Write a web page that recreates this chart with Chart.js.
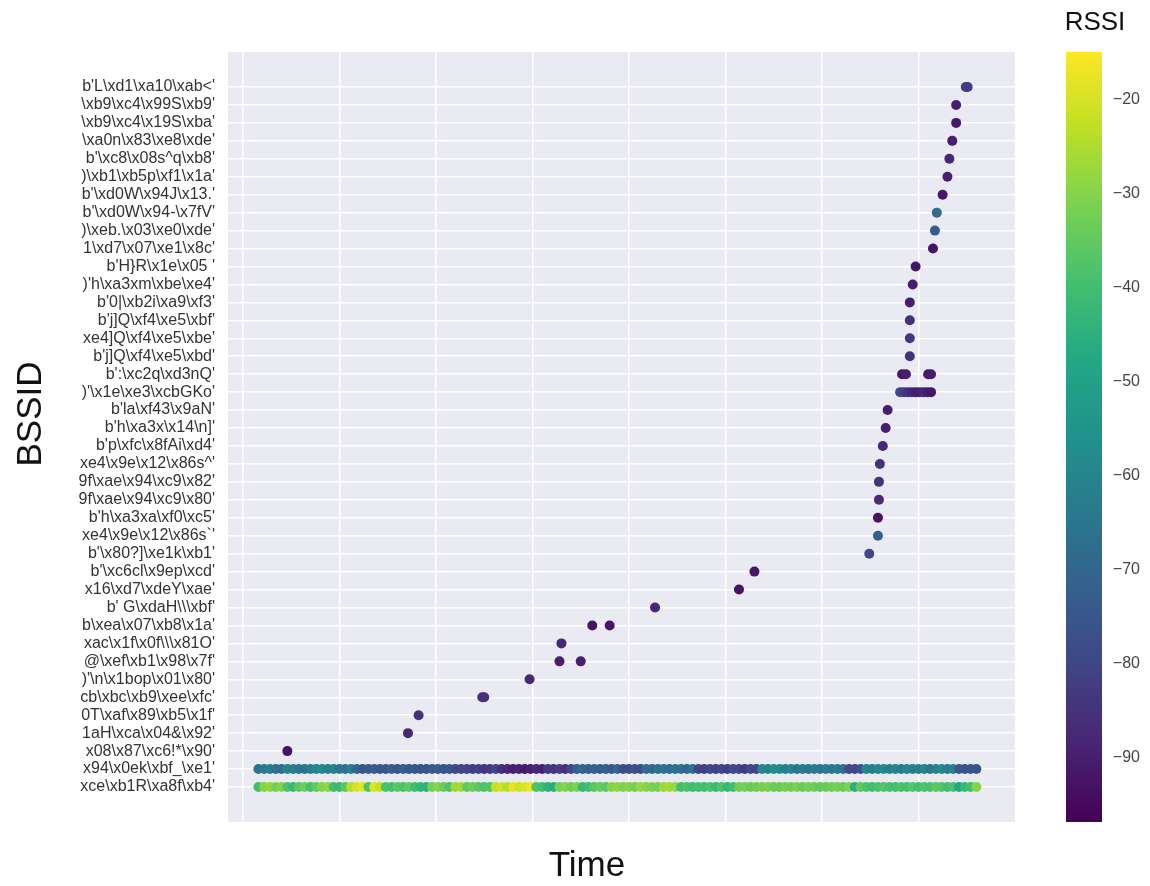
<!DOCTYPE html>
<html>
<head>
<meta charset="utf-8">
<script src="https://cdn.jsdelivr.net/npm/chart.js@4/dist/chart.umd.min.js"></script>
<style>
  html, body { margin: 0; padding: 0; background: #ffffff; }
  #wrap { position: relative; width: 1150px; height: 886px; }
</style>
</head>
<body>
<div id="wrap"><canvas id="c" width="1150" height="886"></canvas></div>
<script>
// ---------- DATA ----------
// BSSID tick labels, bottom (0) to top (39), as visible in the reference
const bssidLabels = [
  "xce\\xb1R\\xa8f\\xb4'",
  "x94\\x0ek\\xbf_\\xe1'",
  "x08\\x87\\xc6!*\\x90'",
  "1aH\\xca\\x04&\\x92'",
  "0T\\xaf\\x89\\xb5\\x1f'",
  "cb\\xbc\\xb9\\xee\\xfc'",
  ")'\\n\\x1bop\\x01\\x80'",
  " @\\xef\\xb1\\x98\\x7f'",
  "xac\\x1f\\x0f\\\\\\x81O'",
  "b\\xea\\x07\\xb8\\x1a'",
  "b' G\\xdaH\\\\\\xbf'",
  "x16\\xd7\\xdeY\\xae'",
  "b'\\xc6cl\\x9ep\\xcd'",
  "b'\\x80?]\\xe1k\\xb1'",
  "xe4\\x9e\\x12\\x86s`'",
  "b'h\\xa3xa\\xf0\\xc5'",
  "9f\\xae\\x94\\xc9\\x80'",
  "9f\\xae\\x94\\xc9\\x82'",
  "xe4\\x9e\\x12\\x86s^'",
  "b'p\\xfc\\x8fAi\\xd4'",
  "b'h\\xa3x\\x14\\n]'",
  "b'la\\xf43\\x9aN'",
  ")'\\x1e\\xe3\\xcbGKo'",
  "b':\\xc2q\\xd3nQ'",
  "b'j]Q\\xf4\\xe5\\xbd'",
  "xe4]Q\\xf4\\xe5\\xbe'",
  "b'j]Q\\xf4\\xe5\\xbf'",
  "b'0|\\xb2i\\xa9\\xf3'",
  ")'h\\xa3xm\\xbe\\xe4'",
  "b'H}R\\x1e\\x05 '",
  "1\\xd7\\x07\\xe1\\x8c'",
  ")\\xeb.\\x03\\xe0\\xde'",
  "b'\\xd0W\\x94-\\x7fV'",
  "b'\\xd0W\\x94J\\x13.'",
  ")\\xb1\\xb5p\\xf1\\x1a'",
  "b'\\xc8\\x08s^q\\xb8'",
  "\\xa0n\\x83\\xe8\\xde'",
  "\\xb9\\xc4\\x19S\\xba'",
  "\\xb9\\xc4\\x99S\\xb9'",
  "b'L\\xd1\\xa10\\xab<'"
];

// scan times for the two always-present BSSIDs (rows 0 and 1)
const scanTimes = [
  1.6,2.2,2.8,3.4,4.0,4.6,5.2,5.8,6.4,7.0,
  7.6,8.2,8.8,9.4,10.0,10.6,11.2,11.8,12.4,13.0,
  13.6,14.2,14.8,15.4,16.0,16.6,17.2,17.8,18.4,19.0,
  19.6,20.2,20.8,21.4,22.0,22.6,23.2,23.8,24.4,25.0,
  25.6,26.2,26.8,27.4,28.0,28.6,29.2,29.8,30.4,31.0,
  31.6,32.2,32.8,33.4,34.0,34.6,35.2,35.8,36.4,37.0,
  37.6,38.2,38.8,39.4,40.0,40.6,41.2,41.8,42.4,43.0,
  43.6,44.2,44.8,45.4,46.0,46.6,47.2,47.8,48.4,49.0,
  49.6,50.2,50.8,51.4,52.0,52.6,53.2,53.8,54.4,55.0,
  55.6,56.2,56.8,57.4,58.0,58.6,59.2,59.8,60.4,61.0,
  61.6,62.2,62.8,63.4,64.0,64.6,65.2,65.8,66.4,67.0,
  67.6,68.2,68.8,69.4,70.0,70.6,71.2,71.8,72.4,73.0,
  73.6,74.2,74.8,75.4,76.0
];

// RSSI of row 0 (bottom BSSID) at each scan
const rssiRow0 = [
  -40,-30,-28,-32,-30,-38,-42,-36,-33,-40,
  -35,-30,-29,-40,-42,-36,-24,-20,-18,-38,
  -19,-22,-38,-40,-36,-38,-35,-40,-43,-44,
  -32,-30,-34,-38,-27,-26,-35,-33,-36,-38,
  -37,-22,-20,-24,-18,-21,-19,-17,-38,-40,
  -44,-46,-32,-30,-33,-31,-42,-40,-36,-34,
  -36,-30,-29,-31,-30,-32,-28,-30,-31,-32,
  -27,-26,-28,-40,-38,-41,-39,-40,-38,-42,
  -38,-43,-40,-33,-32,-34,-33,-32,-31,-33,
  -34,-32,-33,-31,-34,-32,-33,-35,-34,-33,
  -32,-34,-31,-46,-35,-38,-40,-38,-37,-39,
  -40,-38,-39,-37,-40,-38,-39,-36,-37,-40,
  -38,-48,-42,-40,-30
];

// RSSI of row 1 at each scan
const rssiRow1 = [
  -66,-64,-62,-66,-68,-60,-62,-64,-66,-63,
  -60,-58,-62,-60,-64,-66,-62,-70,-75,-74,
  -73,-75,-74,-72,-76,-73,-75,-74,-76,-75,
  -74,-73,-76,-75,-78,-80,-80,-82,-81,-84,
  -83,-80,-86,-88,-90,-89,-91,-90,-88,-89,
  -83,-84,-82,-85,-80,-72,-70,-72,-71,-73,
  -72,-74,-70,-78,-79,-77,-78,-68,-70,-67,
  -66,-68,-65,-67,-70,-66,-80,-82,-79,-81,
  -80,-82,-78,-80,-83,-79,-80,-58,-60,-57,
  -59,-62,-60,-64,-63,-66,-62,-64,-63,-65,
  -62,-66,-78,-80,-77,-60,-62,-60,-58,-62,
  -60,-63,-59,-61,-62,-60,-64,-61,-58,-62,
  -60,-74,-76,-75,-77
];

// occasional sightings of the other BSSIDs
const sparseRow  = [2,3,4,5,5,6,7,7,8,9,9,10,11,12,13,14,15,16,17,18,19,20,21,
                    22,22,22,22,22,22,22,22,22,
                    23,23,23,23,
                    24,25,26,27,28,29,30,31,32,33,34,35,36,37,38,39,39];
const sparseTime = [4.6,17.1,18.2,24.8,25.0,29.7,32.8,35.0,33.0,36.2,38.0,42.7,51.4,53.0,64.9,65.8,65.8,65.9,65.9,66.0,66.3,66.6,66.8,
                    68.1,68.5,68.9,69.3,69.7,70.1,70.5,70.9,71.3,
                    68.3,68.7,71.0,71.3,
                    69.1,69.1,69.1,69.1,69.4,69.7,71.5,71.7,71.9,72.5,73.0,73.2,73.5,73.9,73.9,74.9,75.1];
const sparseRssi = [-93,-88,-85,-86,-86,-88,-90,-90,-88,-93,-92,-88,-93,-92,-80,-72,-93,-87,-85,-85,-88,-90,-90,
                    -80,-82,-86,-88,-90,-90,-88,-90,-92,
                    -92,-90,-92,-90,
                    -85,-84,-86,-90,-90,-92,-93,-73,-68,-92,-90,-88,-90,-92,-90,-82,-82];

const timeTicks = [0,10,20,30,40,50,60,70];
const colorTicks = [-90,-80,-70,-60,-50,-40,-30,-20];
const rssiMin = -96.9, rssiMax = -14.9;

// ---------- viridis colormap ----------
const viridis = ['#440154','#482475','#414487','#355f8d','#2a788e','#21918c','#22a884','#44bf70','#7ad151','#bddf26','#fde725'];
function hexToRgb(h){ return [parseInt(h.slice(1,3),16),parseInt(h.slice(3,5),16),parseInt(h.slice(5,7),16)]; }
function viridisColor(v){
  let t = (v - rssiMin) / (rssiMax - rssiMin);
  t = Math.max(0, Math.min(1, t));
  const p = t * (viridis.length - 1);
  const i = Math.min(Math.floor(p), viridis.length - 2);
  const f = p - i;
  const a = hexToRgb(viridis[i]), b = hexToRgb(viridis[i+1]);
  return 'rgb(' + a.map((c,k)=>Math.round(c + (b[k]-c)*f)).join(',') + ')';
}

// ---------- build points ----------
const points = [];
scanTimes.forEach((t,i)=>points.push({x:t, y:0, v:rssiRow0[i]}));
scanTimes.forEach((t,i)=>points.push({x:t, y:1, v:rssiRow1[i]}));
sparseRow.forEach((r,i)=>points.push({x:sparseTime[i], y:r, v:sparseRssi[i]}));

const FONT = '"Liberation Sans", Arial, sans-serif';

const bgPlugin = {
  id: 'bg',
  beforeDraw(chart){
    const {ctx, chartArea:a} = chart;
    ctx.save();
    ctx.fillStyle = '#EAEAF2';
    ctx.fillRect(a.left, a.top, a.right - a.left, a.bottom - a.top);
    ctx.restore();
  },
  afterDraw(chart){
    const ctx = chart.ctx;
    const cs = chart.scales.cbar;
    // colour bar
    const yTop = cs.getPixelForValue(rssiMax), yBot = cs.getPixelForValue(rssiMin);
    const x0 = cs.left + 51, w = 36;
    const g = ctx.createLinearGradient(0, yBot, 0, yTop);
    viridis.forEach((c,i)=>g.addColorStop(i/(viridis.length-1), c));
    ctx.save();
    ctx.fillStyle = g;
    ctx.fillRect(x0, yTop, w, yBot - yTop);
    // titles
    ctx.fillStyle = '#111';
    ctx.textAlign = 'center';
    ctx.textBaseline = 'middle';
    ctx.font = '26px ' + FONT;
    ctx.fillText('RSSI', 1095, 23);
    ctx.font = '35px ' + FONT;
    ctx.fillText('Time', 587, 866);
    ctx.translate(31, 414);
    ctx.rotate(-Math.PI/2);
    ctx.fillText('BSSID', 0, 0);
    ctx.restore();
  }
};

new Chart(document.getElementById('c'), {
  type: 'scatter',
  data: {
    datasets: [{
      data: points,
      pointRadius: 5,
      pointHoverRadius: 5,
      pointBorderWidth: 0,
      pointBackgroundColor: (ctx) => ctx.raw ? viridisColor(ctx.raw.v) : '#000'
    }]
  },
  options: {
    responsive: false,
    animation: false,
    events: [],
    layout: { padding: { top: 52, left: 0, right: 10, bottom: 0 } },
    plugins: { legend: { display: false }, tooltip: { enabled: false } },
    scales: {
      x: {
        type: 'linear',
        min: -1.55, max: 80,
        afterBuildTicks: (s) => { s.ticks = timeTicks.map(v=>({value:v})); },
        afterFit: (s) => { s.height = 64; },
        ticks: { display: false },
        grid: { color: '#ffffff', lineWidth: 1.5, drawTicks: false },
        border: { display: false },
        title: { display: false, text: 'Time' }
      },
      y: {
        type: 'linear',
        min: -1.95, max: 40.95,
        afterBuildTicks: (s) => { s.ticks = bssidLabels.map((l,i)=>({value:i})); },
        afterFit: (s) => { s.width = 228; },
        ticks: {
          autoSkip: false,
          padding: 13,
          color: '#333',
          font: { family: FONT, size: 16 },
          callback: (v) => bssidLabels[v]
        },
        grid: { color: '#ffffff', lineWidth: 1.5, drawTicks: false },
        border: { display: false }
      },
      cbar: {
        type: 'linear',
        position: 'right',
        min: rssiMin, max: rssiMax,
        afterBuildTicks: (s) => { s.ticks = colorTicks.map(v=>({value:v})); },
        afterFit: (s) => { s.width = 125; },
        ticks: {
          autoSkip: false,
          padding: 0,
          crossAlign: 'far',
          color: '#444',
          font: { family: FONT, size: 16 },
          callback: (v) => '\u2212' + Math.abs(v)
        },
        grid: { display: false, drawTicks: false },
        border: { display: false }
      }
    }
  },
  plugins: [bgPlugin]
});
</script>
</body>
</html>
